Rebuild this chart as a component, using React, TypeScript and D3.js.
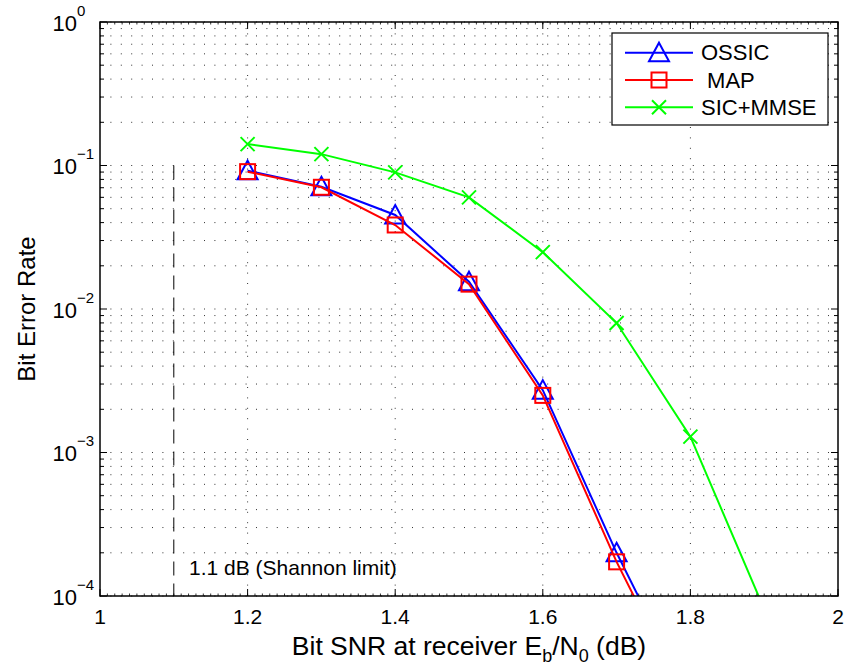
import React from "react";
import * as d3 from "d3";

const snr = [1.2, 1.3, 1.4, 1.5, 1.6, 1.7, 1.8];
const ossic = [0.092, 0.0711, 0.0452, 0.0155, 0.00272, 0.0002, 0.0000187];
const mapBer = [0.0906, 0.0705, 0.0385, 0.0149, 0.0025, 0.000173, 0.0000165];
const snrSic = [1.2, 1.3, 1.4, 1.5, 1.6, 1.7, 1.8, 1.9];
const sic = [0.141, 0.12, 0.0896, 0.06, 0.0249, 0.00798, 0.00129, 0.000081];
const xTicks = [1, 1.2, 1.4, 1.6, 1.8, 2];
const xTickLabels = ["1", "1.2", "1.4", "1.6", "1.8", "2"];
const yExps = [0, -1, -2, -3, -4];
const legendNames = ["OSSIC", " MAP", "SIC+MMSE"];
const shannonX = 1.1;
const shannonLabel = "1.1 dB (Shannon limit)";

const W = 846, H = 671;
const L = 100, R = 838, T = 22, B = 596;
const FONT = "'Liberation Sans', Arial, Helvetica, sans-serif";

export default function App() {
  const x = d3.scaleLinear().domain([1, 2]).range([L, R]);
  const y = d3.scaleLog().domain([1e-4, 1]).range([B, T]);

  const minorY: number[] = [];
  for (let e = -4; e < 0; e++) for (let m = 2; m <= 9; m++) minorY.push(m * Math.pow(10, e));
  const majorY = yExps.map((e) => Math.pow(10, e));
  const minorX = d3.range(1, 101).map((i) => 1 + i * 0.01);

  const line = d3.line<[number, number]>().x((d) => x(d[0])).y((d) => y(d[1]));
  const series = [
    { name: legendNames[0], xs: snr, ys: ossic, color: "#0000ff", marker: "tri" },
    { name: legendNames[1], xs: snr, ys: mapBer, color: "#ff0000", marker: "sq" },
    { name: legendNames[2], xs: snrSic, ys: sic, color: "#00ff00", marker: "x" },
  ];

  const marker = (kind: string, cx: number, cy: number, color: string, key: string) => {
    if (kind === "tri") {
      const s = 10;
      return (
        <path key={key} d={`M${cx},${cy - s} L${cx + s},${cy + s * 0.85} L${cx - s},${cy + s * 0.85} Z`}
          fill="none" stroke={color} strokeWidth={2} />
      );
    }
    if (kind === "sq") {
      const s = 7.5;
      return <rect key={key} x={cx - s} y={cy - s} width={2 * s} height={2 * s} fill="none" stroke={color} strokeWidth={2} />;
    }
    const s = 7;
    return (
      <path key={key} d={`M${cx - s},${cy - s} L${cx + s},${cy + s} M${cx - s},${cy + s} L${cx + s},${cy - s}`}
        stroke={color} strokeWidth={2} fill="none" />
    );
  };

  const gridStyle = { stroke: "#333", strokeWidth: 1, strokeDasharray: "1 9.4" };

  return (
    <svg width={W} height={H} style={{ position: "absolute", left: 0, top: 0, background: "#fff" }}
      fontFamily={FONT}>
      <rect x={0} y={0} width={W} height={H} fill="#fff" />
      <defs>
        <clipPath id="plotClip">
          <rect x={L} y={T} width={R - L} height={B - T} />
        </clipPath>
      </defs>
      {/* grid */}
      {[...minorY, ...majorY].map((v, i) => (
        <line key={"gy" + i} x1={L} x2={R} y1={y(v)} y2={y(v)} {...gridStyle} />
      ))}
      {xTicks.slice(1, -1).map((v, i) => (
        <line key={"gx" + i} x1={x(v)} x2={x(v)} y1={B} y2={T} {...gridStyle} />
      ))}
      {/* Shannon limit */}
      <line x1={x(shannonX)} x2={x(shannonX)} y1={y(0.1)} y2={y(1e-4)} stroke="#000" strokeWidth={1}
        strokeDasharray="14 8" />
      <text x={189} y={575} fontSize={21} fill="#000">{shannonLabel}</text>
      {/* series */}
      <g clipPath="url(#plotClip)">
        {series.map((s) => (
          <g key={s.name}>
            <path d={line(s.xs.map((v, i) => [v, s.ys[i]] as [number, number])) || ""} fill="none"
              stroke={s.color} strokeWidth={2} />
            {s.xs.map((v, i) => marker(s.marker, x(v), y(s.ys[i]), s.color, s.name + i))}
          </g>
        ))}
      </g>
      {/* axes box */}
      <rect x={L} y={T} width={R - L} height={B - T} fill="none" stroke="#000" strokeWidth={1.5} />
      {/* ticks */}
      {xTicks.map((v, i) => (
        <g key={"xt" + i}>
          <line x1={x(v)} x2={x(v)} y1={B} y2={B - 7} stroke="#000" />
          <line x1={x(v)} x2={x(v)} y1={T} y2={T + 7} stroke="#000" />
          <text x={x(v)} y={624} fontSize={21} textAnchor="middle">{xTickLabels[i]}</text>
        </g>
      ))}
      {minorX.map((v, i) => (
        <g key={"xm" + i}>
          <line x1={x(v)} x2={x(v)} y1={B} y2={B - 2.5} stroke="#000" strokeWidth={0.8} />
          <line x1={x(v)} x2={x(v)} y1={T} y2={T + 2.5} stroke="#000" strokeWidth={0.8} />
        </g>
      ))}
      {minorY.map((v, i) => (
        <g key={"ym" + i}>
          <line x1={L} x2={L + 4} y1={y(v)} y2={y(v)} stroke="#000" />
          <line x1={R} x2={R - 4} y1={y(v)} y2={y(v)} stroke="#000" />
        </g>
      ))}
      {yExps.map((e, i) => {
        const yy = y(Math.pow(10, e));
        return (
          <g key={"yt" + i}>
            <line x1={L} x2={L + 7} y1={yy} y2={yy} stroke="#000" />
            <line x1={R} x2={R - 7} y1={yy} y2={yy} stroke="#000" />
            <text x={77} y={yy + 8.5} fontSize={22} textAnchor="end">10</text>
            <text x={77} y={yy - 6.5} fontSize={15} textAnchor="start">{e === 0 ? "0" : "\u2212" + (-e)}</text>
          </g>
        );
      })}
      {/* axis labels */}
      <text x={(L + R) / 2} y={655} fontSize={26.5} textAnchor="middle">
        Bit SNR at receiver E<tspan fontSize={18} dy={7}>b</tspan>
        <tspan dy={-7}>/N</tspan><tspan fontSize={18} dy={7}>0</tspan>
        <tspan dy={-7}> (dB)</tspan>
      </text>
      <text transform={`translate(35,${(T + B) / 2}) rotate(-90)`} fontSize={24} textAnchor="middle">Bit Error Rate</text>
      {/* legend */}
      <rect x={612} y={33} width={216} height={92} fill="#fff" stroke="#000" strokeWidth={1.2} />
      {series.map((s, i) => {
        const ly = 52.7 + i * 27.3;
        return (
          <g key={"lg" + i}>
            <line x1={625} x2={693} y1={ly} y2={ly} stroke={s.color} strokeWidth={2} />
            {marker(s.marker, 659, ly, s.color, "lm" + i)}
            <text x={701} y={ly + 7.5} fontSize={22} style={{ whiteSpace: "pre" }}>{s.name}</text>
          </g>
        );
      })}
    </svg>
  );
}
